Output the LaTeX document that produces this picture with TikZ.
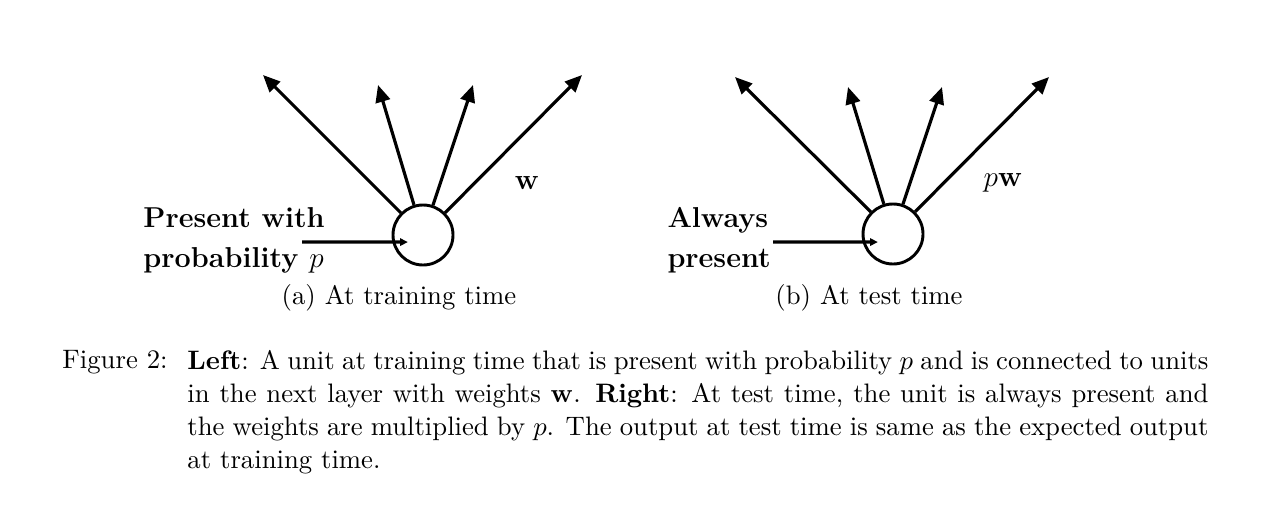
\documentclass[tikz,border=0pt]{standalone}
\usepackage{amsmath,amssymb,bm}
\usetikzlibrary{arrows.meta,positioning}

\begin{document}
\begin{tikzpicture}[
  x=0.41pt, y=-0.41pt,
  txt/.style={inner sep=0pt, font=\fontsize{10.95pt}{13.6pt}\selectfont},
  wt/.style={inner sep=0pt, font=\fontsize{11.8pt}{14pt}\selectfont},
  side/.style={inner sep=0pt, align=left, font=\fontsize{11.8pt}{16.4pt}\selectfont\bfseries},
  unit/.style={draw, circle, line width=1.2pt, minimum size=24.6pt, inner sep=0pt},
  arr/.style={-{Triangle[length=7pt,width=6pt]}, line width=1.3pt},
  inarr/.style={-{Triangle[length=3.2pt,width=3pt]}, line width=1.3pt}
]
  \useasboundingbox (0,0) rectangle (1280,504);

  % (a) training time
  \node[unit] (unitA) at (423,235) {};
  \coordinate (oA1) at (263,75);
  \coordinate (oA2) at (378,85);
  \coordinate (oA3) at (473,85);
  \coordinate (oA4) at (582,75);
  \coordinate (inA) at (302,242);
  \node[side, anchor=west] (labA) at (143,240) {Present with\\probability \mdseries$p$};
  \node[wt] (wA) at (527,183) {$\mathbf{w}$};
  \node[txt] (capA) at (399,298) {(a) At training time};

  \foreach \i in {1,...,4}
    \draw[arr] (unitA) -- (oA\i);
  \draw[inarr] (inA) -- ([xshift=-6.2pt,yshift=-2.9pt]unitA.center);

  % (b) test time
  \node[unit] (unitB) at (893,234) {};
  \coordinate (oB1) at (735,77);
  \coordinate (oB2) at (848,87);
  \coordinate (oB3) at (942,87);
  \coordinate (oB4) at (1049,77);
  \coordinate (inB) at (773,242);
  \node[side, anchor=west] (labB) at (667,240) {Always\\present};
  \node[wt] (wB) at (1003,183) {$p\mathbf{w}$};
  \node[txt] (capB) at (869,298) {(b) At test time};

  \foreach \i in {1,...,4}
    \draw[arr] (unitB) -- (oB\i);
  \draw[inarr] (inB) -- ([xshift=-6.2pt,yshift=-3.3pt]unitB.center);

  % caption
  \node[txt, anchor=base west] (figlab) at (62,368) {Figure 2:};
  \node[txt, anchor=north west, text width=418.6pt, align=justify] (capt) at (187,349.5)
    {\textbf{Left}: A unit at training time that is present with probability $p$ and is connected to units\linebreak
     in the next layer with weights $\mathbf{w}$. \textbf{Right}: At test time, the unit is always present and\linebreak
     the weights are multiplied by $p$. The output at test time is same as the expected output\linebreak
     at training time.};
\end{tikzpicture}
\end{document}
